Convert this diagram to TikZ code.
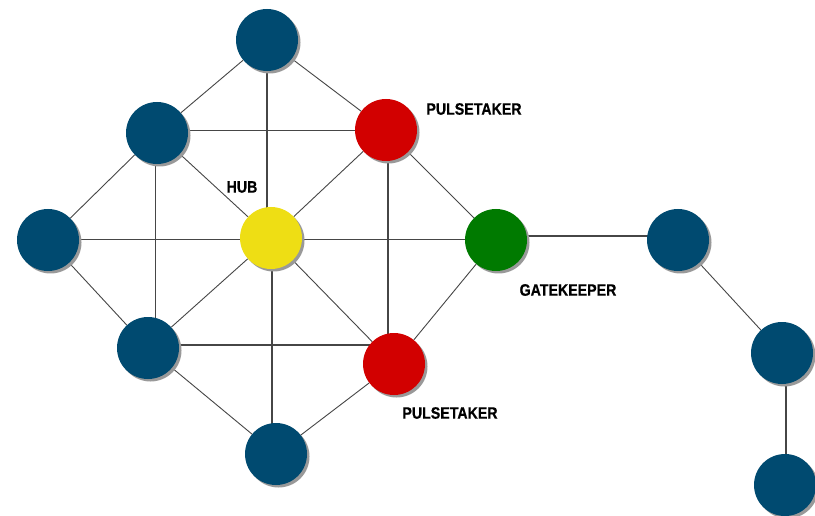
\documentclass[tikz,border=0pt]{standalone}
\usepackage{fontspec}
\setmainfont{Liberation Sans}
\newfontfamily\lblfont{Liberation Sans}[BoldFeatures={FakeBold=0.8}]
\usetikzlibrary{shadows,backgrounds}
\definecolor{nblue}{RGB}{0,74,112}
\definecolor{nred}{RGB}{210,0,0}
\definecolor{nyellow}{RGB}{238,222,20}
\definecolor{ngreen}{RGB}{0,122,0}
\definecolor{edgecol}{RGB}{70,70,70}
\tikzset{
  dot/.style={circle, minimum size=62pt, inner sep=0pt, draw=none,
    drop shadow={shadow xshift=2.5pt, shadow yshift=-2.5pt, fill=black!40, opacity=1}},
  bluedot/.style={dot, fill=nblue},
  reddot/.style={dot, fill=nred},
  yellowdot/.style={dot, fill=nyellow},
  greendot/.style={dot, fill=ngreen},
  link/.style={draw=edgecol, line width=0.9pt},
  straightlink/.style={draw=edgecol, line width=1.3pt},
  lbl/.style={font=\fontsize{16.5}{16.5}\lblfont\bfseries, inner sep=0pt, text=black}
}
\begin{document}
\begin{tikzpicture}[x=1pt,y=-1pt]
\useasboundingbox (0,0) rectangle (815,516);
% nodes
\node[bluedot] (top) at (267,40) {};
\node[bluedot] (ul) at (157,133) {};
\node[reddot] (pt1) at (386,130) {};
\node[bluedot] (left) at (48,240) {};
\node[yellowdot] (hub) at (271,238) {};
\node[greendot] (gk) at (496,240) {};
\node[bluedot] (ll) at (148,348) {};
\node[reddot] (pt2) at (394,364) {};
\node[bluedot] (bot) at (276,454) {};
\node[bluedot] (r1) at (678,240) {};
\node[bluedot] (r2) at (782,353) {};
\node[bluedot] (r3) at (785,485) {};
% guide coordinates for the axis-aligned connectors
\coordinate (xa) at (267,0);
\coordinate (xb) at (155.5,0);
\coordinate (xc) at (388,0);
\coordinate (xd) at (272,0);
\coordinate (xe) at (786,0);
\coordinate (ya) at (0,130.5);
\coordinate (yb) at (0,239.5);
\coordinate (yc) at (0,345);
\coordinate (yd) at (0,236);
\begin{scope}[on background layer]
\fill[white] (0,0) rectangle (815,516);
\path[link]
  (top) -- (ul)
  (top) -- (pt1)
  (ul) -- (left)
  (ul) -- (hub)
  (pt1) -- (hub)
  (pt1) -- (gk)
  (left) -- (ll)
  (hub) -- (ll)
  (hub) -- (pt2)
  (ll) -- (bot)
  (pt2) -- (bot)
  (pt2) -- (gk)
  (r1) -- (r2);
\path[straightlink]
  (xa |- top.center) -- (xa |- hub.center)
  (xb |- ul.center) -- (xb |- ll.center)
  (xc |- pt1.center) -- (xc |- pt2.center)
  (xd |- hub.center) -- (xd |- bot.center)
  (xe |- r2.center) -- (xe |- r3.center)
  (ul.center |- ya) -- (pt1.center |- ya)
  (left.center |- yb) -- (gk.center |- yb)
  (ll.center |- yc) -- (pt2.center |- yc)
  (gk.center |- yd) -- (r1.center |- yd);
\end{scope}
% labels
\node[lbl] (lhub) at (242,187) {\scalebox{0.86}[1]{HUB}};
\node[lbl] (lpt1) at (474,109) {\scalebox{0.86}[1]{PULSETAKER}};
\node[lbl] (lgk) at (568,290) {\scalebox{0.86}[1]{GATEKEEPER}};
\node[lbl] (lpt2) at (450,413) {\scalebox{0.86}[1]{PULSETAKER}};
\end{tikzpicture}
\end{document}
